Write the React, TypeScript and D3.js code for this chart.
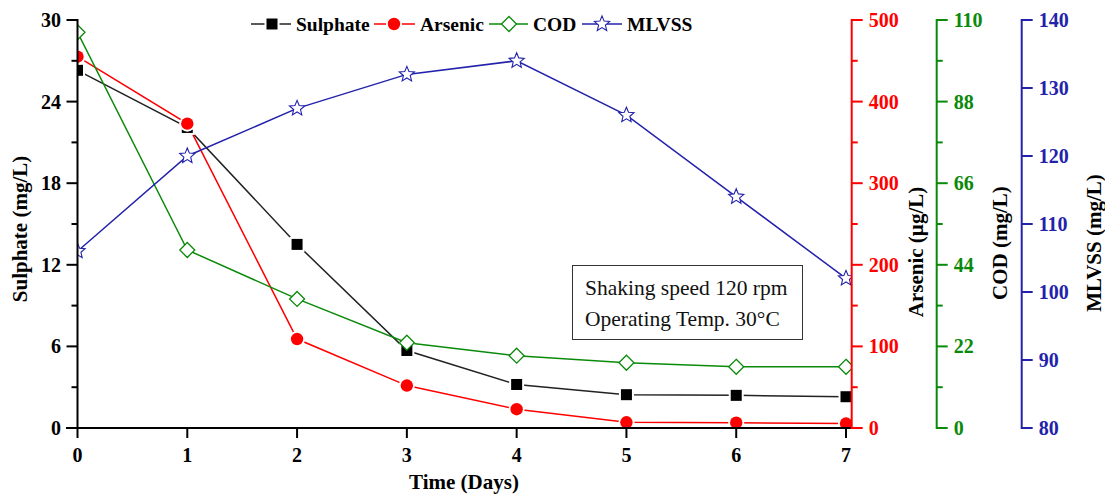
import React from "react";
import * as d3 from "d3";

const days = [0, 1, 2, 3, 4, 5, 6, 7];
const sulphate = [26.3, 22.1, 13.5, 5.7, 3.2, 2.45, 2.4, 2.3];
const arsenic = [455, 373, 109, 52, 23, 7, 6.5, 5.5];
const cod = [106.7, 48, 34.8, 23, 19.5, 17.6, 16.5, 16.5];
const mlvss = [106, 120, 127, 132, 134, 126, 114, 102];

const sulTicks = [0, 6, 12, 18, 24, 30];
const sulMinor = [3, 9, 15, 21, 27];
const asTicks = [0, 100, 200, 300, 400, 500];
const asMinor = [50, 150, 250, 350, 450];
const codTicks = [0, 22, 44, 66, 88, 110];
const codMinor = [11, 33, 55, 77, 99];
const mlTicks = [80, 90, 100, 110, 120, 130, 140];

const BLACK = "#000000";
const RED = "#ff0000";
const GREEN = "#0a8a0a";
const BLUE = "#2222aa";

const SERIF = "Liberation Serif, Times New Roman, DejaVu Serif, serif";
const TS: React.CSSProperties = { fontFamily: SERIF };

const W = 1105;
const H = 497;
const top = 20;
const bottom = 428;
const left = 77.5;
const right = 851.5;

function starPath(cx: number, cy: number, R: number, r: number) {
  const pts: string[] = [];
  for (let i = 0; i < 10; i++) {
    const rad = i % 2 === 0 ? R : r;
    const a = -Math.PI / 2 + (i * Math.PI) / 5;
    pts.push(`${cx + rad * Math.cos(a)},${cy + rad * Math.sin(a)}`);
  }
  return "M" + pts.join("L") + "Z";
}

function diamondPath(cx: number, cy: number, s: number) {
  return `M${cx},${cy - s}L${cx + s},${cy}L${cx},${cy + s}L${cx - s},${cy}Z`;
}

type Kind = "square" | "circle" | "diamond" | "star";

function Marker({ kind, cx, cy, color }: { kind: Kind; cx: number; cy: number; color: string }) {
  if (kind === "square") {
    return (
      <g>
        <rect x={cx - 7.5} y={cy - 7.5} width={15} height={15} fill="#fff" />
        <rect x={cx - 5.5} y={cy - 5.5} width={11} height={11} fill={color} />
      </g>
    );
  }
  if (kind === "circle") {
    return (
      <g>
        <circle cx={cx} cy={cy} r={8} fill="#fff" />
        <circle cx={cx} cy={cy} r={6.2} fill={color} />
      </g>
    );
  }
  if (kind === "diamond") {
    return <path d={diamondPath(cx, cy, 7.5)} fill="#fff" stroke={color} strokeWidth={1.3} />;
  }
  return <path d={starPath(cx, cy, 8, 3.6)} fill="#fff" stroke={color} strokeWidth={1.1} />;
}

export default function App() {
  const x = d3.scaleLinear().domain([0, 7.05]).range([left, right]);
  const ySul = d3.scaleLinear().domain([0, 30]).range([bottom, top]);
  const yAs = d3.scaleLinear().domain([0, 500]).range([bottom, top]);
  const yCod = d3.scaleLinear().domain([0, 110]).range([bottom, top]);
  const yMl = d3.scaleLinear().domain([80, 140]).range([bottom, top]);

  const series = [
    { name: "Sulphate", data: sulphate, y: ySul, color: BLACK, lineColor: "#222", kind: "square" as Kind },
    { name: "Arsenic", data: arsenic, y: yAs, color: RED, lineColor: RED, kind: "circle" as Kind },
    { name: "COD", data: cod, y: yCod, color: GREEN, lineColor: GREEN, kind: "diamond" as Kind },
    { name: "MLVSS", data: mlvss, y: yMl, color: BLUE, lineColor: BLUE, kind: "star" as Kind },
  ];

  const rightAxes = [
    { x: 851.7, scale: yAs, ticks: asTicks, minor: asMinor, color: RED, title: "Arsenic (\u00b5g/L)", tx: 916, ty: 252 },
    { x: 936.7, scale: yCod, ticks: codTicks, minor: codMinor, color: GREEN, title: "COD (mg/L)", tx: 1000, ty: 243 },
    { x: 1021.7, scale: yMl, ticks: mlTicks, minor: [] as number[], color: BLUE, title: "MLVSS (mg/L)", tx: 1094, ty: 243 },
  ];

  const legendItems = [
    { name: "Sulphate", x0: 251, x1: 291, mx: 272, tx: 296, color: BLACK, lineColor: "#222", kind: "square" as Kind },
    { name: "Arsenic", x0: 374, x1: 415, mx: 394, tx: 420, color: RED, lineColor: RED, kind: "circle" as Kind },
    { name: "COD", x0: 489, x1: 528, mx: 509, tx: 533, color: GREEN, lineColor: GREEN, kind: "diamond" as Kind },
    { name: "MLVSS", x0: 582, x1: 622, mx: 602, tx: 627, color: BLUE, lineColor: BLUE, kind: "star" as Kind },
  ];

  return (
    <svg
      width={W}
      height={H}
      style={{ position: "absolute", left: 0, top: 0, background: "#fff", fontFamily: SERIF }}
    >
      <defs>
        <clipPath id="plotClip">
          <rect x={left} y={0} width={right - left} height={bottom} />
        </clipPath>
      </defs>
      <rect x={0} y={0} width={W} height={H} fill="#fff" />

      {/* data */}
      <g clipPath="url(#plotClip)">
        {series.map((s) => {
          const line = d3
            .line<number>()
            .x((_, i) => x(days[i]))
            .y((v) => s.y(v));
          return (
            <path key={s.name + "l"} d={line(s.data) || ""} fill="none" stroke={s.lineColor} strokeWidth={1.5} />
          );
        })}
        {series.map((s) => (
          <g key={s.name + "m"}>
            {s.data.map((v, i) => (
              <Marker key={i} kind={s.kind} cx={x(days[i])} cy={s.y(v)} color={s.color} />
            ))}
          </g>
        ))}
      </g>

      {/* bottom axis */}
      <line x1={66} x2={right + 1} y1={bottom} y2={bottom} stroke={BLACK} strokeWidth={2} />
      {days.map((d) => (
        <g key={"xt" + d}>
          <line x1={x(d)} x2={x(d)} y1={bottom} y2={bottom + 10} stroke={BLACK} strokeWidth={2} />
          <text x={x(d)} y={462} textAnchor="middle" fontSize={20} fontWeight="bold" fill={BLACK} style={TS}>
            {d}
          </text>
        </g>
      ))}
      <text x={464} y={489} textAnchor="middle" fontSize={21} fontWeight="bold" fill={BLACK} style={TS}>
        Time (Days)
      </text>

      {/* left axis */}
      <line x1={left} x2={left} y1={top - 1} y2={bottom + 1} stroke={BLACK} strokeWidth={2} />
      {sulTicks.map((t) => (
        <g key={"lt" + t}>
          <line x1={left - 11} x2={left} y1={ySul(t)} y2={ySul(t)} stroke={BLACK} strokeWidth={2} />
          <text x={61} y={ySul(t)} dy="0.35em" textAnchor="end" fontSize={20} fontWeight="bold" fill={BLACK} style={TS}>
            {t}
          </text>
        </g>
      ))}
      {sulMinor.map((t) => (
        <line key={"lm" + t} x1={left - 6} x2={left} y1={ySul(t)} y2={ySul(t)} stroke={BLACK} strokeWidth={2} />
      ))}
      <text
        transform={`translate(20,229) rotate(-90)`}
        textAnchor="middle"
        dy="0.35em"
        fontSize={21}
        fontWeight="bold"
        fill={BLACK}
        style={TS}
      >
        Sulphate (mg/L)
      </text>

      {/* right axes */}
      {rightAxes.map((a) => (
        <g key={a.title}>
          <line x1={a.x} x2={a.x} y1={top - 1} y2={bottom + 1} stroke={a.color} strokeWidth={2} />
          {a.ticks.map((t) => (
            <g key={t}>
              <line x1={a.x} x2={a.x + 11} y1={a.scale(t)} y2={a.scale(t)} stroke={a.color} strokeWidth={2} />
              <text
                x={a.x + 17}
                y={a.scale(t)}
                dy="0.35em"
                fontSize={20}
                fontWeight="bold"
                fill={a.color}
                style={TS}
              >
                {t}
              </text>
            </g>
          ))}
          {a.minor.map((t) => (
            <line key={"m" + t} x1={a.x} x2={a.x + 6} y1={a.scale(t)} y2={a.scale(t)} stroke={a.color} strokeWidth={2} />
          ))}
          <text
            transform={`translate(${a.tx},${a.ty}) rotate(-90)`}
            textAnchor="middle"
            dy="0.35em"
            fontSize={21}
            fontWeight="bold"
            fill={BLACK}
            style={TS}
          >
            {a.title}
          </text>
        </g>
      ))}

      {/* legend */}
      {legendItems.map((l) => (
        <g key={"lg" + l.name}>
          <line x1={l.x0} x2={l.x1} y1={24} y2={24} stroke={l.lineColor} strokeWidth={1.5} />
          <Marker kind={l.kind} cx={l.mx} cy={24} color={l.color} />
          <text x={l.tx} y={24} dy="0.35em" fontSize={19.5} fontWeight="bold" fill={BLACK} style={TS}>
            {l.name}
          </text>
        </g>
      ))}

      {/* annotation box */}
      <rect x={572.5} y={265.5} width={230} height={74} fill="#fff" stroke="#333" strokeWidth={1} />
      <text x={585} y={295} fontSize={21.5} fill="#111" style={TS}>
        Shaking speed 120 rpm
      </text>
      <text x={585} y={326} fontSize={21.5} fill="#111" style={TS}>
        Operating Temp. 30°C
      </text>
    </svg>
  );
}
